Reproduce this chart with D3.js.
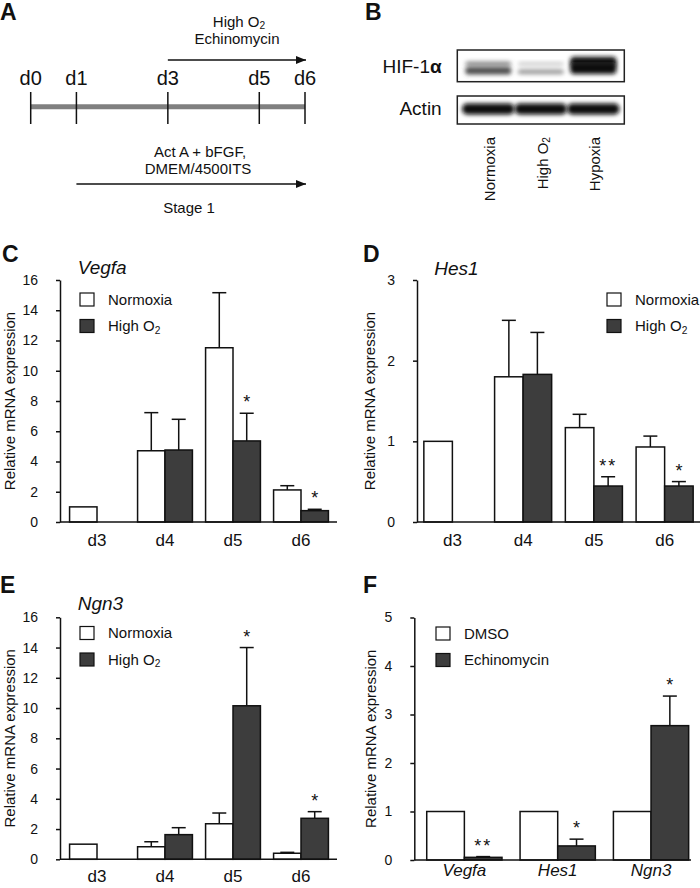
<!DOCTYPE html>
<html>
<head>
<meta charset="utf-8">
<script src="https://cdn.jsdelivr.net/npm/d3@7"></script>
<style>
  body { margin: 0; background: #fff; }
  text { font-family: "Liberation Sans", Arial, Helvetica, sans-serif; fill: #111; }
</style>
</head>
<body>
<div id="chart"></div>
<script>
// ---- data ----
const timelineDays = [0, 1, 3, 5, 6];

const blotLanes = ['Normoxia', 'High O_2', 'Hypoxia'];
const hifUpper = [0.45, 0.2, 0.95];
const hifLower = [0.7, 0.38, 1.0];
const actinLevel = [1, 1, 1];

const days = ['d3', 'd4', 'd5', 'd6'];
const hypoxKeys = ['Normoxia', 'High O_2'];

const vegfaNorm = [1.0, 4.71, 11.52, 2.12];
const vegfaNormErr = [0, 2.52, 3.64, 0.28];
const vegfaHigh = [null, 4.76, 5.36, 0.75];
const vegfaHighErr = [0, 2.03, 1.83, 0.09];
const vegfaStars = ['', '', '*', '*'];

const hes1Norm = [1.0, 1.80, 1.17, 0.93];
const hes1NormErr = [0, 0.70, 0.165, 0.135];
const hes1High = [null, 1.83, 0.446, 0.446];
const hes1HighErr = [0, 0.52, 0.115, 0.055];
const hes1Stars = ['', '', '**', '*'];

const ngn3Norm = [1.0, 0.83, 2.35, 0.40];
const ngn3NormErr = [0, 0.33, 0.71, 0.06];
const ngn3High = [null, 1.63, 10.15, 2.71];
const ngn3HighErr = [0, 0.46, 3.85, 0.44];
const ngn3Stars = ['', '', '*', '*'];

const genes = ['Vegfa', 'Hes1', 'Ngn3'];
const echinoKeys = ['DMSO', 'Echinomycin'];
const dmsoVals = [1, 1, 1];
const dmsoErr = [0, 0, 0];
const echinoVals = [0.055, 0.29, 2.77];
const echinoErr = [0.015, 0.14, 0.61];
const echinoStars = ['**', '*', '*'];

// ---- setup ----
const svg = d3.select('#chart').append('svg')
  .attr('width', 700).attr('height', 888)
  .style('background', '#fff');

const darkFill = '#3d3d3d';

function withSub(t, str) {
  const parts = str.split('_');
  t.append('tspan').text(parts[0]);
  if (parts[1]) {
    t.append('tspan').attr('font-size', '0.68em').attr('dy', '0.25em').text(parts[1]);
  }
  return t;
}

function panelLetter(x, y, s) {
  svg.append('text').attr('x', x).attr('y', y)
    .attr('font-size', 23).attr('font-weight', 'bold').text(s);
}

// ---- panel A: timeline ----
panelLetter(0, 19.5, 'A');

const defs = svg.append('defs');
defs.append('marker')
  .attr('id', 'arrow')
  .attr('viewBox', '0 0 10 8')
  .attr('refX', 10).attr('refY', 4)
  .attr('markerUnits', 'userSpaceOnUse')
  .attr('markerWidth', 11).attr('markerHeight', 8)
  .attr('orient', 'auto')
  .append('path').attr('d', 'M0,0L10,4L0,8z').attr('fill', '#111');

const tx = d3.scaleLinear().domain([0, 6]).range([30.7, 305]);
const aG = svg.append('g');

aG.append('line')
  .attr('x1', tx(0)).attr('x2', tx(6))
  .attr('y1', 106.7).attr('y2', 106.7)
  .attr('stroke', '#808080').attr('stroke-width', 5);

aG.selectAll('.dtick').data(timelineDays).join('line')
  .attr('class', 'dtick')
  .attr('x1', d => tx(d)).attr('x2', d => tx(d))
  .attr('y1', 92).attr('y2', 124)
  .attr('stroke', '#111').attr('stroke-width', 1.5);

aG.selectAll('.dlab').data(timelineDays).join('text')
  .attr('class', 'dlab')
  .attr('x', d => tx(d)).attr('y', 84.5)
  .attr('text-anchor', 'middle').attr('font-size', 20)
  .text(d => 'd' + d);

// treatment arrows
aG.append('line')
  .attr('x1', tx(3)).attr('x2', tx(6) + 1)
  .attr('y1', 60).attr('y2', 60)
  .attr('stroke', '#111').attr('stroke-width', 1.5)
  .attr('marker-end', 'url(#arrow)');
withSub(aG.append('text').attr('x', 239).attr('y', 26.5)
  .attr('text-anchor', 'middle').attr('font-size', 15), 'High O_2');
aG.append('text').attr('x', 237).attr('y', 44)
  .attr('text-anchor', 'middle').attr('font-size', 15).text('Echinomycin');

aG.append('line')
  .attr('x1', tx(1)).attr('x2', tx(6) + 1)
  .attr('y1', 184).attr('y2', 184)
  .attr('stroke', '#111').attr('stroke-width', 1.5)
  .attr('marker-end', 'url(#arrow)');
aG.append('text').attr('x', 200).attr('y', 157)
  .attr('text-anchor', 'middle').attr('font-size', 15).text('Act A + bFGF,');
aG.append('text').attr('x', 198).attr('y', 174)
  .attr('text-anchor', 'middle').attr('font-size', 15).text('DMEM/4500ITS');
aG.append('text').attr('x', 189).attr('y', 213)
  .attr('text-anchor', 'middle').attr('font-size', 15).text('Stage 1');

// ---- panel B: western blot ----
panelLetter(365, 19.5, 'B');

const blur = defs.append('filter').attr('id', 'blur')
  .attr('x', '-30%').attr('y', '-80%').attr('width', '160%').attr('height', '260%');
blur.append('feGaussianBlur').attr('stdDeviation', 2.2);

const lx = d3.scaleBand().domain(blotLanes).range([457.3, 624.3]).paddingInner(0.12).paddingOuter(0.15);
const shade = d3.interpolateRgb('#f4f4f4', '#0a0a0a');
const bG = svg.append('g');

// HIF-1a box
const hifBox = bG.append('g');
hifBox.selectAll('.up').data(blotLanes).join('rect')
  .attr('x', d => lx(d)).attr('width', lx.bandwidth())
  .attr('y', (d, i) => 64 - (3 + 7 * hifUpper[i] ** 2) / 2 - 3 * hifUpper[i] ** 3)
  .attr('height', (d, i) => 3 + 7 * hifUpper[i] ** 2)
  .attr('rx', 4)
  .attr('fill', (d, i) => shade(hifUpper[i]))
  .attr('filter', 'url(#blur)');
hifBox.selectAll('.lo').data(blotLanes).join('rect')
  .attr('x', d => lx(d)).attr('width', lx.bandwidth())
  .attr('y', (d, i) => 72 - (4 + 8 * hifLower[i] ** 2) / 2 - 4 * hifLower[i] ** 3)
  .attr('height', (d, i) => 4 + 8 * hifLower[i] ** 2)
  .attr('rx', 4)
  .attr('fill', (d, i) => shade(hifLower[i]))
  .attr('filter', 'url(#blur)');
bG.append('rect').attr('x', 457.3).attr('y', 50).attr('width', 167).attr('height', 31.7)
  .attr('fill', 'none').attr('stroke', '#222').attr('stroke-width', 1.5);

// actin box
bG.selectAll('.actin').data(blotLanes).join('rect')
  .attr('x', d => lx(d) - 3).attr('width', lx.bandwidth() + 6)
  .attr('y', 103.5).attr('height', 11)
  .attr('rx', 5)
  .attr('fill', (d, i) => shade(actinLevel[i]))
  .attr('filter', 'url(#blur)');
bG.append('rect').attr('x', 457.3).attr('y', 96).attr('width', 167).attr('height', 28)
  .attr('fill', 'none').attr('stroke', '#222').attr('stroke-width', 1.5);

const hifLab = bG.append('text').attr('x', 441.7).attr('y', 72.5)
  .attr('text-anchor', 'end').attr('font-size', 19);
hifLab.append('tspan').text('HIF-1');
hifLab.append('tspan').attr('font-weight', 'bold').text('α');
bG.append('text').attr('x', 441.7).attr('y', 115)
  .attr('text-anchor', 'end').attr('font-size', 19).text('Actin');

bG.selectAll('.lane').data(blotLanes).join('text')
  .attr('class', 'lane')
  .attr('font-size', 15)
  .attr('text-anchor', 'end')
  .attr('transform', d => `translate(${lx(d) + lx.bandwidth() / 2 + 7},137) rotate(-90)`)
  .each(function (d) { withSub(d3.select(this), d); });

// ---- bar panels ----
function barPanel(cfg) {
  const g = svg.append('g');
  const y = d3.scaleLinear().domain([0, cfg.yMax]).range([cfg.y0, cfg.y1]);
  const x0 = d3.scaleBand().domain(cfg.cats).range(cfg.xRange);
  const x1 = d3.scaleBand().domain([0, 1]).range([0, x0.bandwidth()]).paddingOuter(0.24);

  // y axis
  const ya = g.append('g')
    .attr('transform', `translate(${cfg.axisX},0)`)
    .call(d3.axisLeft(y).tickValues(cfg.ticks).tickFormat(d3.format('d'))
      .tickSize(4).tickSizeOuter(0).tickPadding(18));
  ya.selectAll('path, line').attr('stroke', '#111').attr('stroke-width', 1.5);
  ya.selectAll('text').attr('font-size', 14).attr('font-family', null).attr('fill', '#111');

  g.append('text')
    .attr('transform', `translate(${cfg.axisX - cfg.labelOff},${(cfg.y0 + cfg.y1) / 2}) rotate(-90)`)
    .attr('text-anchor', 'middle').attr('dy', '0.35em')
    .attr('font-size', 15).text('Relative mRNA expression');

  // bars
  cfg.series.forEach((s, si) => {
    const items = s.vals.map((v, i) => ({ v, e: s.err[i], cat: cfg.cats[i], star: s.stars ? s.stars[i] : '' }))
      .filter(d => d.v != null);
    const cx = d => x0(d.cat) + x1(si) + x1.bandwidth() / 2;

    g.selectAll(null).data(items.filter(d => d.e > 0)).join('line')
      .attr('x1', cx).attr('x2', cx)
      .attr('y1', d => y(d.v)).attr('y2', d => y(d.v + d.e))
      .attr('stroke', '#111').attr('stroke-width', 1.5);
    g.selectAll(null).data(items.filter(d => d.e > 0)).join('line')
      .attr('x1', d => cx(d) - 7).attr('x2', d => cx(d) + 7)
      .attr('y1', d => y(d.v + d.e)).attr('y2', d => y(d.v + d.e))
      .attr('stroke', '#111').attr('stroke-width', 1.5);

    g.selectAll(null).data(items).join('rect')
      .attr('x', d => x0(d.cat) + x1(si))
      .attr('width', x1.bandwidth())
      .attr('y', d => y(d.v))
      .attr('height', d => y(0) - y(d.v))
      .attr('fill', s.fill).attr('stroke', '#111').attr('stroke-width', 1.5);

    g.selectAll(null).data(items.filter(d => d.star)).join('text')
      .attr('x', cx).attr('y', d => y(d.v + d.e) - 5)
      .attr('text-anchor', 'middle').attr('font-size', 18)
      .attr('letter-spacing', d => d.star.length > 1 ? 2 : 0)
      .text(d => d.star);
  });

  // x axis
  g.append('line')
    .attr('x1', cfg.axisX).attr('x2', cfg.axisEnd)
    .attr('y1', y(0)).attr('y2', y(0))
    .attr('stroke', '#111').attr('stroke-width', 1.5);
  const xa = g.append('g')
    .attr('transform', `translate(0,${y(0)})`)
    .call(d3.axisBottom(x0).tickSize(0).tickPadding(cfg.xPad));
  xa.select('.domain').remove();
  xa.selectAll('text').attr('font-size', 17).attr('font-family', null).attr('fill', '#111')
    .attr('font-style', cfg.italicX ? 'italic' : null);

  // legend
  cfg.series.forEach((s, si) => {
    const ly = cfg.legend[1] + si * 26.5;
    g.append('rect').attr('x', cfg.legend[0]).attr('y', ly)
      .attr('width', 14).attr('height', 13)
      .attr('fill', s.fill).attr('stroke', '#111').attr('stroke-width', 1.2);
    withSub(g.append('text').attr('x', cfg.legend[0] + 28).attr('y', ly + 11.5)
      .attr('font-size', 15), s.name);
  });

  if (cfg.title) {
    g.append('text').attr('x', cfg.title[0]).attr('y', cfg.title[1])
      .attr('font-size', 19).attr('font-style', 'italic').text(cfg.title[2]);
  }
}

panelLetter(2, 261.7, 'C');
barPanel({
  cats: days, yMax: 16, ticks: d3.range(0, 17, 2),
  y0: 522, y1: 280, axisX: 60, axisEnd: 337, xRange: [63, 335], labelOff: 50, xPad: 12,
  legend: [80, 293], title: [77.7, 274.3, 'Vegfa'],
  series: [
    { name: hypoxKeys[0], vals: vegfaNorm, err: vegfaNormErr, fill: '#fff' },
    { name: hypoxKeys[1], vals: vegfaHigh, err: vegfaHighErr, fill: darkFill, stars: vegfaStars }
  ]
});

panelLetter(363, 261.7, 'D');
barPanel({
  cats: days, yMax: 3, ticks: [0, 1, 2, 3],
  y0: 522, y1: 280, axisX: 417, axisEnd: 700, xRange: [417, 700], labelOff: 47, xPad: 12,
  legend: [607, 293], title: [434.3, 275, 'Hes1'],
  series: [
    { name: hypoxKeys[0], vals: hes1Norm, err: hes1NormErr, fill: '#fff' },
    { name: hypoxKeys[1], vals: hes1High, err: hes1HighErr, fill: darkFill, stars: hes1Stars }
  ]
});

panelLetter(0, 593.3, 'E');
barPanel({
  cats: days, yMax: 16, ticks: d3.range(0, 17, 2),
  y0: 859.3, y1: 617.3, axisX: 60, axisEnd: 337, xRange: [63, 335], labelOff: 50, xPad: 11,
  legend: [80, 626.5], title: [77.7, 610, 'Ngn3'],
  series: [
    { name: hypoxKeys[0], vals: ngn3Norm, err: ngn3NormErr, fill: '#fff' },
    { name: hypoxKeys[1], vals: ngn3High, err: ngn3HighErr, fill: darkFill, stars: ngn3Stars }
  ]
});

panelLetter(363, 593.3, 'F');
barPanel({
  cats: genes, yMax: 5, ticks: [0, 1, 2, 3, 4, 5],
  y0: 860, y1: 617.5, axisX: 414.3, axisEnd: 691, xRange: [417.7, 697.7], labelOff: 44, xPad: 4,
  legend: [436, 627], italicX: true,
  series: [
    { name: echinoKeys[0], vals: dmsoVals, err: dmsoErr, fill: '#fff' },
    { name: echinoKeys[1], vals: echinoVals, err: echinoErr, fill: darkFill, stars: echinoStars }
  ]
});
</script>
</body>
</html>
